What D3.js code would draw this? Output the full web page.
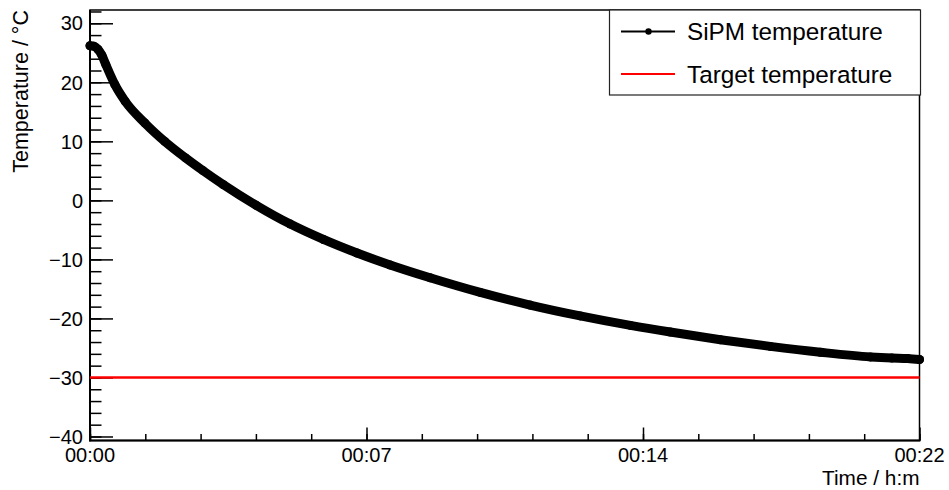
<!DOCTYPE html>
<html>
<head>
<meta charset="utf-8">
<script src="https://cdn.jsdelivr.net/npm/d3@7/dist/d3.min.js"></script>
<style>
  html, body { margin: 0; padding: 0; background: #fff; }
  svg { display: block; font-family: "Liberation Sans", Arial, Helvetica, sans-serif; }
</style>
</head>
<body>
<svg id="chart" width="949" height="490"></svg>
<script>
// ── Data ─────────────────────────────────────────────────────────────────────

// elapsed time in minutes, SiPM temperature in °C
const timeMin = [0, 0.1, 0.2, 0.3, 0.4, 0.63, 0.89, 1.39, 1.89, 2.41, 2.86, 3.37,
  4.21, 5.07, 5.91, 6.76, 7.6, 8.61, 9.88, 11.14, 12.41, 13.68, 14.69, 15.96,
  17.22, 18.49, 19.76, 20.3, 20.7, 21.0];
const sipmTemp = [26.2, 26.1, 25.6, 24.6, 23.0, 19.6, 16.8, 13.1, 10.0, 7.24, 5.04, 2.69,
  -0.84, -4.02, -6.62, -8.92, -10.94, -13.11, -15.59, -17.73, -19.57, -21.18, -22.31, -23.61,
  -24.74, -25.73, -26.52, -26.7, -26.78, -26.95];

const targetTime = [0, 21];
const targetTemp = [-30, -30];

const xMajorTicks = [0, 7, 14, 21];
const xTickLabels = ["00:00", "00:07", "00:14", "00:22"];
const yMajorTicks = [-40, -30, -20, -10, 0, 10, 20, 30];

const legendLabels = ["SiPM temperature", "Target temperature"];

// ── Layout ───────────────────────────────────────────────────────────────────

const frame = { left: 90, right: 919.5, top: 10, bottom: 440.5 };

const svg = d3.select("#chart");

const x = d3.scaleLinear().domain([0, 21]).range([frame.left, frame.right]);
const y = d3.scaleLinear().domain([-40.68, 32.25]).range([frame.bottom, frame.top]);

// minor ticks: 5 divisions per major
const xMinor = d3.range(0, 21.001, 1.4);
const yMinor = d3.range(-40, 32.25, 2);

// ── Axes ─────────────────────────────────────────────────────────────────────

const yAxisMinor = d3.axisRight(y).tickValues(yMinor).tickSize(11.5).tickFormat("");
const yAxisMajor = d3.axisRight(y).tickValues(yMajorTicks).tickSize(23).tickFormat("");
const xAxisMinor = d3.axisTop(x).tickValues(xMinor).tickSize(6.5).tickFormat("");
const xAxisMajor = d3.axisTop(x).tickValues(xMajorTicks).tickSize(13).tickFormat("");

function styleAxis(g) {
  g.select(".domain").remove();
  g.selectAll(".tick line").attr("stroke", "#000").attr("stroke-width", 1.5);
}

svg.append("g").attr("transform", `translate(${frame.left},0)`).call(yAxisMinor).call(styleAxis);
svg.append("g").attr("transform", `translate(${frame.left},0)`).call(yAxisMajor).call(styleAxis);
svg.append("g").attr("transform", `translate(0,${frame.bottom})`).call(xAxisMinor).call(styleAxis);
svg.append("g").attr("transform", `translate(0,${frame.bottom})`).call(xAxisMajor).call(styleAxis);

// frame
svg.append("rect")
  .attr("x", frame.left).attr("y", frame.top)
  .attr("width", frame.right - frame.left).attr("height", frame.bottom - frame.top)
  .attr("fill", "none").attr("stroke", "#000").attr("stroke-width", 1.5);
svg.append("line")
  .attr("x1", frame.left).attr("x2", frame.left)
  .attr("y1", frame.top).attr("y2", frame.bottom + 0.8)
  .attr("stroke", "#000").attr("stroke-width", 2);
svg.append("line")
  .attr("x1", frame.left - 1).attr("x2", frame.right + 0.8)
  .attr("y1", frame.bottom).attr("y2", frame.bottom)
  .attr("stroke", "#000").attr("stroke-width", 2);

// tick labels
svg.append("g").selectAll("text")
  .data(yMajorTicks)
  .join("text")
  .attr("x", 83)
  .attr("y", (d) => y(d))
  .attr("dy", "0.36em")
  .attr("text-anchor", "end")
  .attr("font-size", 20)
  .text((d) => (d < 0 ? "\u2212" + Math.abs(d) : d));

svg.append("g").selectAll("text")
  .data(xMajorTicks)
  .join("text")
  .attr("x", (d) => x(d))
  .attr("y", 462)
  .attr("text-anchor", "middle")
  .attr("font-size", 20)
  .text((d, i) => xTickLabels[i]);

// axis titles
svg.append("text")
  .attr("transform", `translate(28,${frame.top}) rotate(-90)`)
  .attr("text-anchor", "end")
  .attr("font-size", 21.5)
  .text("Temperature / \u00B0C");

svg.append("text")
  .attr("x", frame.right)
  .attr("y", 485)
  .attr("text-anchor", "end")
  .attr("font-size", 20.8)
  .text("Time / h:m");

// ── Series ───────────────────────────────────────────────────────────────────

const targetData = targetTime.map((t, i) => ({ t, v: targetTemp[i] }));
svg.append("path")
  .datum(targetData)
  .attr("fill", "none")
  .attr("stroke", "#ff0000")
  .attr("stroke-width", 2.5)
  .attr("d", d3.line().x((d) => x(d.t)).y((d) => y(d.v)));

const sipmData = timeMin.map((t, i) => ({ t, v: sipmTemp[i] }));
svg.append("path")
  .datum(sipmData)
  .attr("fill", "none")
  .attr("stroke", "#000")
  .attr("stroke-width", 9)
  .attr("stroke-linecap", "round")
  .attr("stroke-linejoin", "round")
  .attr("d", d3.line().curve(d3.curveMonotoneX).x((d) => x(d.t)).y((d) => y(d.v)));

svg.append("g").selectAll("circle")
  .data(sipmData)
  .join("circle")
  .attr("cx", (d) => x(d.t))
  .attr("cy", (d) => y(d.v))
  .attr("r", 4.5)
  .attr("fill", "#000");

// ── Legend ───────────────────────────────────────────────────────────────────

const legend = svg.append("g");
legend.append("rect")
  .attr("x", 609.5).attr("y", frame.top)
  .attr("width", 311).attr("height", 85)
  .attr("fill", "#fff").attr("stroke", "#222").attr("stroke-width", 1.2);

const legendRows = [
  { label: legendLabels[0], color: "#000", marker: true, cy: 31.5 },
  { label: legendLabels[1], color: "#ff0000", marker: false, cy: 74 },
];

const row = legend.selectAll("g.row")
  .data(legendRows)
  .join("g")
  .attr("class", "row");

row.append("line")
  .attr("x1", 621).attr("x2", 675)
  .attr("y1", (d) => d.cy).attr("y2", (d) => d.cy)
  .attr("stroke", (d) => d.color)
  .attr("stroke-width", 2.2);

row.filter((d) => d.marker)
  .append("circle")
  .attr("cx", 648.5).attr("cy", (d) => d.cy)
  .attr("r", 3.2)
  .attr("fill", "#000");

row.append("text")
  .attr("x", 687)
  .attr("y", (d) => d.cy)
  .attr("dy", "0.36em")
  .attr("font-size", 24.3)
  .text((d) => d.label);
</script>
</body>
</html>
